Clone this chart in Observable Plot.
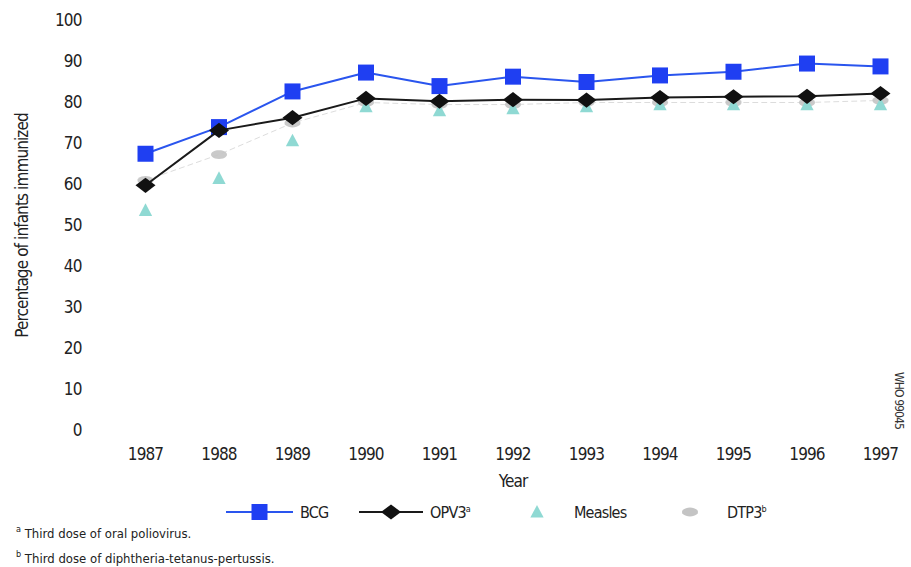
<!DOCTYPE html>
<html>
<head>
<meta charset="utf-8">
<script src="https://cdn.jsdelivr.net/npm/d3@7"></script>
<script src="https://cdn.jsdelivr.net/npm/@observablehq/plot@0.6"></script>
<style>
  html, body { margin: 0; padding: 0; background: #fff; }
  #wrap { position: relative; width: 911px; height: 567px; overflow: hidden;
    font-family: 'Liberation Sans Narrow', 'DejaVu Sans Condensed', 'Open Sans', sans-serif; color: #222; }
  #legend { position: absolute; left: 0; top: 499px; width: 911px; height: 26px; }
  .item { position: absolute; top: 0; height: 26px; display: flex; align-items: center; font-size: 16px; letter-spacing: -0.8px; }
  .foot { position: absolute; left: 16px; font-size: 13px; color: #222; }
  sup { font-size: 9px; vertical-align: 6px; }
</style>
</head>
<body>
<div id="wrap">
  <div id="chart"></div>
  <div id="legend"></div>
  <div class="foot" style="top:524px"><sup>a</sup> Third dose of oral poliovirus.</div>
  <div class="foot" style="top:549px"><sup>b</sup> Third dose of diphtheria-tetanus-pertussis.</div>
</div>
<script>
const years = [1987, 1988, 1989, 1990, 1991, 1992, 1993, 1994, 1995, 1996, 1997];
const bcg = [67.5, 74, 82.7, 87.3, 84, 86.3, 85, 86.6, 87.5, 89.5, 88.8];
const opv3 = [59.8, 73.2, 76.3, 81, 80.3, 80.7, 80.6, 81.2, 81.4, 81.5, 82.2];
const measles = [53.7, 61.5, 70.7, 79, 78, 78.5, 79, 79.5, 79.5, 79.5, 79.5];
const dtp3 = [61, 67.3, 75, 80, 79.5, 79.5, 80, 80, 80, 80, 80.5];
const yTicks = [0, 10, 20, 30, 40, 50, 60, 70, 80, 90, 100];
const seriesNames = ["BCG", "OPV3", "Measles", "DTP3"];

const colors = { BCG: "#1f3ff2", OPV3: "#111111", Measles: "#8fd9d3", DTP3: "#c4c4c4" };
const lineColors = { BCG: "#2a55ee", OPV3: "#1a1a1a" };

const sym = {
  square: { draw(c, size) { const r = Math.sqrt(size / Math.PI); c.rect(-r, -r, 2 * r, 2 * r); } },
  diamond: { draw(c, size) { const r = Math.sqrt(size / Math.PI); const w = r * 1.25, h = r * 0.95;
    c.moveTo(-w, 0); c.lineTo(0, -h); c.lineTo(w, 0); c.lineTo(0, h); c.closePath(); } },
  triangle: { draw(c, size) { const r = Math.sqrt(size / Math.PI);
    c.moveTo(0, -r); c.lineTo(r * 0.95, r * 0.8); c.lineTo(-r * 0.95, r * 0.8); c.closePath(); } },
  ellipse: { draw(c, size) { const r = Math.sqrt(size / Math.PI); const n = 24;
    for (let i = 0; i < n; i++) { const a = 2 * Math.PI * i / n; const px = r * Math.cos(a), py = r * 0.55 * Math.sin(a);
      if (i === 0) c.moveTo(px, py); else c.lineTo(px, py); }
    c.closePath(); } }
};

const toRows = (name, vals) => years.map((y, i) => ({ year: y, value: vals[i], series: name }));
const rBCG = toRows("BCG", bcg), rOPV = toRows("OPV3", opv3), rMea = toRows("Measles", measles), rDTP = toRows("DTP3", dtp3);

const font = "'Liberation Sans Narrow', 'DejaVu Sans Condensed', sans-serif";

const chart = Plot.plot({
  width: 911,
  height: 495,
  marginLeft: 145,
  marginRight: 31,
  marginTop: 20,
  marginBottom: 65,
  style: { fontFamily: font, fontSize: "17px", color: "#222", background: "#fff", letterSpacing: "-0.9px" },
  x: { domain: [1987, 1997] },
  y: { domain: [0, 100] },
  marks: [
    Plot.axisY({ ticks: yTicks, tickSize: 0, tickPadding: 64, label: null, fontSize: 17 }),
    Plot.axisX({ ticks: years, tickFormat: d => String(d), tickSize: 0, tickPadding: 17, label: null, fontSize: 17 }),
    Plot.text(["Percentage of infants immunized"], { frameAnchor: "left", textAnchor: "middle", lineAnchor: "middle", dx: -123, rotate: -90, fontSize: 17, fill: "#222" }),
    Plot.text(["Year"], { frameAnchor: "bottom", lineAnchor: "middle", dy: 51, fontSize: 17, fill: "#222" }),
    Plot.text(["WHO 99045"], { frameAnchor: "bottom-right", textAnchor: "middle", lineAnchor: "middle", dx: 18, dy: -30, rotate: 90, fontSize: 12, fill: "#333" }),
    Plot.line(rDTP, { x: "year", y: "value", stroke: colors.DTP3, strokeWidth: 1, strokeDasharray: "5,4", strokeOpacity: 0.6 }),
    Plot.dot(rDTP, { x: "year", y: "value", symbol: sym.ellipse, r: 8, fill: colors.DTP3, stroke: "none", fillOpacity: 0.9 }),
    Plot.dot(rMea, { x: "year", y: "value", symbol: sym.triangle, r: 7, fill: colors.Measles, stroke: "none" }),
    Plot.line(rBCG, { x: "year", y: "value", stroke: lineColors.BCG, strokeWidth: 2 }),
    Plot.dot(rBCG, { x: "year", y: "value", symbol: sym.square, r: 8, fill: colors.BCG, stroke: "none" }),
    Plot.line(rOPV, { x: "year", y: "value", stroke: lineColors.OPV3, strokeWidth: 2 }),
    Plot.dot(rOPV, { x: "year", y: "value", symbol: sym.diamond, r: 8, fill: colors.OPV3, stroke: "none" })
  ]
});
document.getElementById("chart").appendChild(chart);

// Legend
const legendSpec = [
  { name: "BCG", sup: "", left: 226, lineW: 67, symbol: sym.square, r: 8, line: lineColors.BCG },
  { name: "OPV3", sup: "a", left: 359, lineW: 64, symbol: sym.diamond, r: 8, line: lineColors.OPV3 },
  { name: "Measles", sup: "", left: 507, lineW: 60, symbol: sym.triangle, r: 7, line: null },
  { name: "DTP3", sup: "b", left: 660, lineW: 60, symbol: sym.ellipse, r: 8, line: null }
];
const legend = document.getElementById("legend");
legendSpec.forEach(s => {
  const div = document.createElement("div");
  div.className = "item";
  div.style.left = s.left + "px";
  const svg = d3.create("svg").attr("width", s.lineW).attr("height", 26);
  if (s.line) svg.append("line").attr("x1", 0).attr("x2", s.lineW).attr("y1", 13).attr("y2", 13)
    .attr("stroke", s.line).attr("stroke-width", 2);
  svg.append("path").attr("transform", `translate(${s.lineW / 2},13)`)
    .attr("d", d3.symbol(s.symbol, s.r * s.r * Math.PI)()).attr("fill", colors[s.name]);
  div.appendChild(svg.node());
  const label = document.createElement("span");
  label.style.marginLeft = "7px";
  label.innerHTML = s.name + (s.sup ? `<sup>${s.sup}</sup>` : "");
  div.appendChild(label);
  legend.appendChild(div);
});
</script>
</body>
</html>
